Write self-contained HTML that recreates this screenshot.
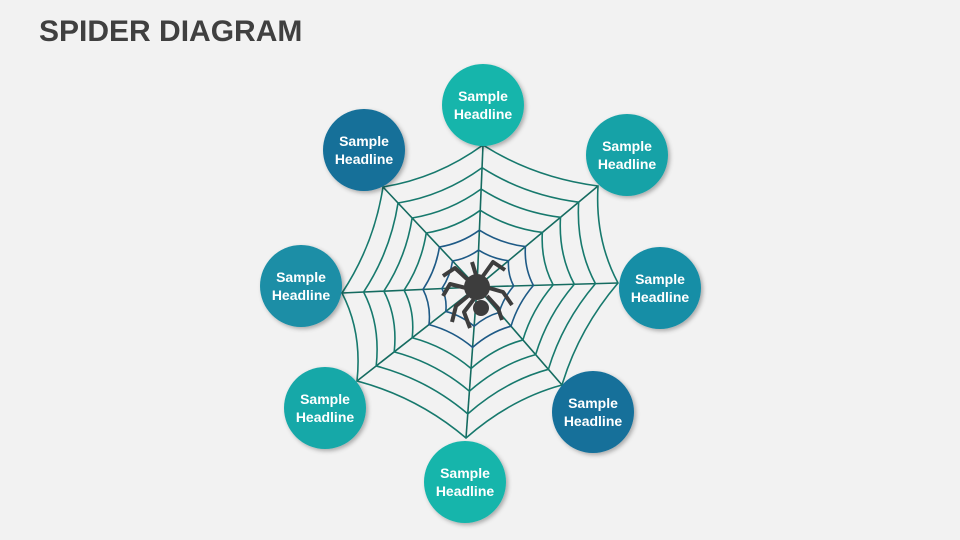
<!DOCTYPE html>
<html><head><meta charset="utf-8"><style>
body{margin:0;background:#f2f2f2;width:960px;height:540px;overflow:hidden;font-family:"Liberation Sans",sans-serif}
.t{position:absolute;left:39px;top:15px;font-size:30px;font-weight:bold;color:#404040}
</style></head><body>
<div class="t">SPIDER DIAGRAM</div>
<svg id="s" width="960" height="540" style="position:absolute;left:0;top:0">
<defs><filter id="sh" x="-20%" y="-20%" width="150%" height="150%"><feDropShadow dx="2" dy="2" stdDeviation="2" flood-opacity="0.3"/></filter></defs>
<g id="web" fill="none" stroke-width="1.6"></g>
<g fill="#3d3d3d" stroke="#3d3d3d" stroke-width="4" stroke-linecap="butt" stroke-linejoin="round">
<circle cx="477" cy="287" r="13" stroke="none"/>
<circle cx="481" cy="308" r="8" stroke="none"/>
<polyline fill="none" points="468,280 455,268 443,276"/>
<polyline fill="none" points="466,288 450,284 443,296"/>
<polyline fill="none" points="468,296 456,306 452,322"/>
<polyline fill="none" points="474,299 464,312 470,328"/>
<polyline fill="none" points="476,275 472,262"/>
<polyline fill="none" points="483,276 493,262 505,270"/>
<polyline fill="none" points="489,288 503,292 512,305"/>
<polyline fill="none" points="487,296 498,308 502,320"/>
</g>
<g id="nodes" font-family="Liberation Sans,sans-serif" font-weight="bold" font-size="14" fill="#fff" text-anchor="middle"></g>
</svg>
<script>
var C=[477,287];
var V=[[483,145],[598,186],[618,283],[562,385],[466,438],[357,381],[342,293],[383,187]];
var web=document.getElementById('web'),h='';
V.forEach(function(v){h+='<line x1="'+C[0]+'" y1="'+C[1]+'" x2="'+v[0]+'" y2="'+v[1]+'" stroke="#156b60"/>';});
var S=[1,.84,.69,.54,.4,.26];
S.forEach(function(s,i){
 var col=i>=4?'#1e5a86':'#17796d';
 var d='';
 for(var k=0;k<8;k++){
  var a=V[k],b=V[(k+1)%8];
  var ax=C[0]+(a[0]-C[0])*s,ay=C[1]+(a[1]-C[1])*s,bx=C[0]+(b[0]-C[0])*s,by=C[1]+(b[1]-C[1])*s;
  var mx=(ax+bx)/2,my=(ay+by)/2,f=0.9;
  var cx=C[0]+(mx-C[0])*f,cy=C[1]+(my-C[1])*f;
  d+=(k==0?'M'+ax+','+ay:'')+' Q'+cx+','+cy+' '+bx+','+by;
 }
 h+='<path d="'+d+'" stroke="'+col+'"/>';
});
web.innerHTML=h;
var N=[[483,105,'#17b5ab'],[627,155,'#17a2a7'],[660,288,'#168ea6'],[593,412,'#13709a'],[465,482,'#17b5ab'],[325,408,'#18a8a8'],[301,286,'#1a8ea6'],[364,150,'#136f99']];
var g='';
N.forEach(function(n){g+='<circle cx="'+n[0]+'" cy="'+n[1]+'" r="41" fill="'+n[2]+'" filter="url(#sh)"/><text x="'+n[0]+'" y="'+(n[1]-4)+'">Sample</text><text x="'+n[0]+'" y="'+(n[1]+14)+'">Headline</text>';});
document.getElementById('nodes').innerHTML=g;
</script>
</body></html>
